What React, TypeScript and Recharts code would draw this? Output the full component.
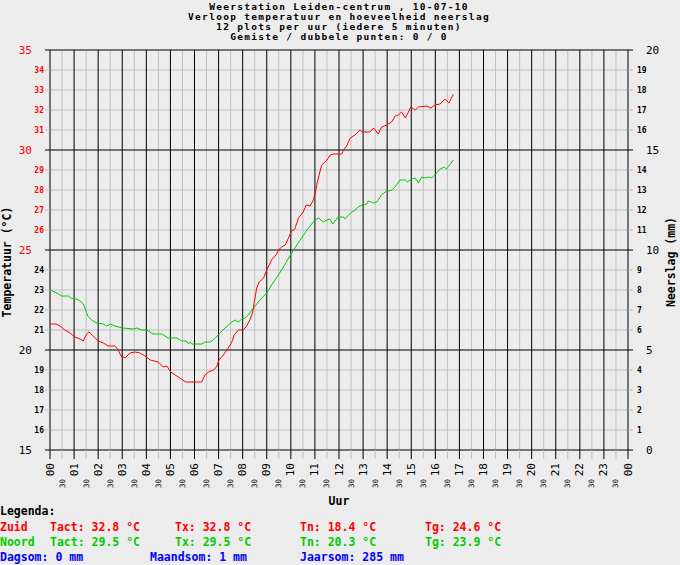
import { LineChart, Line, XAxis, YAxis, ReferenceLine } from 'recharts';

// minutes since 00:00 (5-minute samples, thinned)
const zuidMin = [
  0, 15, 25, 37, 50, 62, 75, 83, 91, 97, 108, 120, 133, 145, 162, 170, 177, 187, 199, 212,
  224, 237, 250, 270, 282, 291, 301, 316, 331, 337, 378, 386, 395, 407, 415, 421, 432, 444, 453, 459,
  469, 482, 490, 498, 505, 509, 515, 521, 532, 540, 552, 565, 569, 577, 586, 594, 602, 610, 619, 631,
  638, 648, 656, 661, 665, 671, 677, 685, 690, 698, 706, 727, 731, 739, 748, 760, 772, 778, 797, 806,
  818, 826, 839, 851, 860, 868, 876, 885, 893, 899, 910, 918, 939, 949, 959, 972, 984, 994, 1005,
];
const zuidTemp = [
  21.3, 21.3, 21.2, 21.0, 20.85, 20.65, 20.55, 20.45, 20.8, 20.9, 20.7, 20.45, 20.35, 20.2, 20.2, 20.0, 19.7, 19.6, 19.85, 19.9,
  19.85, 19.7, 19.5, 19.4, 19.15, 19.2, 18.9, 18.7, 18.5, 18.4, 18.4, 18.75, 18.9, 19.0, 19.15, 19.5, 19.75, 20.1, 20.4, 20.75,
  21.0, 21.0, 21.2, 21.5, 21.9, 22.4, 23.1, 23.4, 23.6, 24.0, 24.5, 24.8, 25.0, 25.15, 25.25, 25.6, 25.95, 26.05, 26.6, 26.9,
  27.25, 27.2, 27.5, 27.85, 28.3, 28.8, 29.25, 29.4, 29.5, 29.75, 29.8, 29.8, 30.0, 30.2, 30.6, 30.75, 31.0, 30.9, 30.9, 31.1,
  30.8, 31.15, 31.25, 31.4, 31.7, 31.75, 31.9, 31.6, 31.9, 32.15, 32.0, 32.15, 32.2, 32.1, 32.25, 32.3, 32.55, 32.35, 32.8,
];

const noordMin = [
  0, 12, 21, 29, 46, 52, 66, 75, 83, 87, 94, 104, 116, 133, 141, 150, 162, 181, 208, 216,
  228, 241, 257, 278, 295, 316, 328, 340, 345, 349, 353, 378, 386, 399, 407, 419, 436, 453, 461, 469,
  478, 486, 494, 509, 523, 540, 552, 569, 586, 600, 615, 630, 644, 660, 669, 681, 690, 698, 704, 718,
  731, 735, 749, 760, 768, 778, 789, 793, 806, 814, 826, 835, 851, 860, 872, 885, 890, 901, 910, 918,
  926, 934, 943, 951, 959, 972, 982, 988, 1005,
];
const noordTemp = [
  23.0, 22.9, 22.8, 22.7, 22.7, 22.6, 22.55, 22.45, 22.3, 22.1, 21.7, 21.5, 21.35, 21.3, 21.2, 21.3, 21.2, 21.1, 21.05, 21.1,
  21.0, 21.0, 20.8, 20.8, 20.6, 20.6, 20.45, 20.45, 20.3, 20.4, 20.3, 20.3, 20.4, 20.4, 20.5, 20.75, 21.1, 21.4, 21.5, 21.4,
  21.55, 21.6, 21.75, 22.15, 22.5, 22.85, 23.25, 23.75, 24.3, 24.8, 25.25, 25.7, 26.1, 26.5, 26.6, 26.4, 26.5, 26.55, 26.3, 26.65,
  26.65, 26.55, 26.85, 27.0, 27.15, 27.25, 27.3, 27.45, 27.35, 27.4, 27.75, 27.9, 28.0, 28.15, 28.5, 28.5, 28.4, 28.55, 28.6, 28.35,
  28.65, 28.6, 28.65, 28.6, 28.75, 29.05, 29.15, 29.05, 29.5,
];

// neerslag (mm): dagsom 0, so the rain trace lies on the bottom border
const neerslagMin = [0, 1005];
const neerslagMm = [0, 0];

const tempTicks = [15, 16, 17, 18, 19, 20, 21, 22, 23, 24, 25, 26, 27, 28, 29, 30, 31, 32, 33, 34, 35];
const rainTicks = [0, 1, 2, 3, 4, 5, 6, 7, 8, 9, 10, 11, 12, 13, 14, 15, 16, 17, 18, 19, 20];
const timeTicks = Array.from({ length: 49 }, (_, i) => i * 30);

const titleLines = [
  'Weerstation Leiden-centrum , 10-07-10',
  'Verloop temperatuur en hoeveelheid neerslag',
  '12 plots per uur (iedere 5 minuten)',
  'Gemiste / dubbele punten: 0 / 0',
];

const zuidData = zuidMin.map((t, i) => ({ t, temp: zuidTemp[i] }));
const noordData = noordMin.map((t, i) => ({ t, temp: noordTemp[i] }));
const rainData = neerslagMin.map((t, i) => ({ t, rain: neerslagMm[i] }));

const RED = '#ff0000';
const GREEN = '#00cc00';
const BLUE = '#0000ff';
const GRID = '#c0c0c0';
const BG = '#ececec';
const MONO = '"DejaVu Sans Mono", monospace';

const TempTick = (props: any) => {
  const { x, y, payload } = props;
  const v = payload.value;
  const major = v % 5 === 0;
  const color = v >= 25 ? RED : '#000';
  return (
    <g>
      <line x1={x - 5} x2={x} y1={y} y2={y} stroke={major ? '#000' : GRID} />
      <text
        x={major ? x - 18 : x - 6}
        y={y}
        textAnchor="end"
        dominantBaseline="central"
        fill={color}
        fontFamily={MONO}
        fontSize={major ? 11 : 8}
        fontWeight={major ? 'normal' : 'bold'}
      >
        {v}
      </text>
    </g>
  );
};

const RainTick = (props: any) => {
  const { x, y, payload } = props;
  const v = payload.value;
  const major = v % 5 === 0;
  return (
    <g>
      <line x1={x} x2={x + 5} y1={y} y2={y} stroke={major ? '#000' : GRID} />
      <text
        x={major ? x + 18 : x + 9}
        y={y}
        textAnchor="start"
        dominantBaseline="central"
        fill="#000"
        fontFamily={MONO}
        fontSize={major ? 11 : 8}
        fontWeight={major ? 'normal' : 'bold'}
      >
        {v}
      </text>
    </g>
  );
};

const TimeTick = (props: any) => {
  const { x, y, payload } = props;
  const v = payload.value;
  const hour = v % 60 === 0;
  const label = hour ? String((v / 60) % 24).padStart(2, '0') : '30';
  return (
    <g>
      <line x1={x} x2={x} y1={y} y2={y + 9} stroke={hour ? '#000' : GRID} />
      {hour ? (
        <text
          transform={`translate(${x},${y + 13}) rotate(-90)`}
          textAnchor="end"
          dominantBaseline="central"
          fill="#000"
          fontFamily={MONO}
          fontSize={11}
        >
          {label}
        </text>
      ) : (
        <text
          transform={`translate(${x},${y + 29}) rotate(-90)`}
          textAnchor="end"
          dominantBaseline="central"
          fill="#000"
          fontFamily={MONO}
          fontSize={7.5}
        >
          {label}
        </text>
      )}
    </g>
  );
};

export default function App() {
  const txt = { fontFamily: MONO, fontSize: 11.5, fontWeight: 'bold' as const };
  const head = { fontFamily: MONO, fontSize: 9.5, letterSpacing: 1.3, fontWeight: 'bold' as const };
  return (
    <div style={{ position: 'absolute', left: 0, top: 0, width: 680, height: 565, background: BG }}>
      <LineChart width={680} height={565} data={zuidData} margin={{ top: 50, right: 0, bottom: 0, left: 0 }}>
        <XAxis
          dataKey="t"
          type="number"
          domain={[0, 1440]}
          ticks={timeTicks}
          interval={0}
          height={115}
          tickSize={0}
          tickMargin={0}
          axisLine={false}
          tick={<TimeTick />}
        />
        <YAxis
          yAxisId="t"
          domain={[15, 35]}
          ticks={tempTicks}
          interval={0}
          width={50}
          tickSize={0}
          tickMargin={0}
          axisLine={false}
          tick={<TempTick />}
        />
        <YAxis
          yAxisId="r"
          orientation="right"
          domain={[0, 20]}
          ticks={rainTicks}
          interval={0}
          width={52}
          tickSize={0}
          tickMargin={0}
          axisLine={false}
          tick={<RainTick />}
        />
        {timeTicks.filter((v) => v % 60 !== 0).map((v) => (
          <ReferenceLine key={'vx' + v} x={v} yAxisId="t" stroke={GRID} />
        ))}
        {tempTicks.filter((v) => v % 5 !== 0).map((v) => (
          <ReferenceLine key={'hy' + v} y={v} yAxisId="t" stroke={GRID} />
        ))}
        {timeTicks.filter((v) => v % 60 === 0).map((v) => (
          <ReferenceLine key={'vX' + v} x={v} yAxisId="t" stroke="#000" />
        ))}
        {tempTicks.filter((v) => v % 5 === 0).map((v) => (
          <ReferenceLine key={'hY' + v} y={v} yAxisId="t" stroke="#000" />
        ))}
        <Line
          yAxisId="r"
          data={rainData}
          dataKey="rain"
          type="linear"
          stroke="#000"
          strokeOpacity={0}
          dot={false}
          isAnimationActive={false}
        />
        <Line
          yAxisId="t"
          data={noordData}
          dataKey="temp"
          type="linear"
          stroke={GREEN}
          strokeWidth={1}
          dot={false}
          isAnimationActive={false}
        />
        <Line
          yAxisId="t"
          data={zuidData}
          dataKey="temp"
          type="linear"
          stroke={RED}
          strokeWidth={1}
          dot={false}
          isAnimationActive={false}
        />
      </LineChart>

      <svg width={680} height={565} style={{ position: 'absolute', left: 0, top: 0, pointerEvents: 'none' }}>
        {titleLines.map((line, i) => (
          <text key={i} x={339} y={10 + i * 10} textAnchor="middle" fill="#000" {...head}>
            {line}
          </text>
        ))}
        <text transform="translate(11,262) rotate(-90)" textAnchor="middle" fill="#000" {...txt}>
          Temperatuur (°C)
        </text>
        <text transform="translate(675,262) rotate(-90)" textAnchor="middle" fill="#000" {...txt}>
          Neerslag (mm)
        </text>
        <text x={339} y={505} textAnchor="middle" fill="#000" {...txt}>Uur</text>
        <text x={0} y={515} fill="#000" {...txt}>Legenda:</text>

        <text x={0} y={531} fill={RED} {...txt}>Zuid</text>
        <text x={50} y={531} fill={RED} {...txt}>Tact: 32.8 °C</text>
        <text x={175} y={531} fill={RED} {...txt}>Tx: 32.8 °C</text>
        <text x={300} y={531} fill={RED} {...txt}>Tn: 18.4 °C</text>
        <text x={425} y={531} fill={RED} {...txt}>Tg: 24.6 °C</text>

        <text x={0} y={546} fill={GREEN} {...txt}>Noord</text>
        <text x={50} y={546} fill={GREEN} {...txt}>Tact: 29.5 °C</text>
        <text x={175} y={546} fill={GREEN} {...txt}>Tx: 29.5 °C</text>
        <text x={300} y={546} fill={GREEN} {...txt}>Tn: 20.3 °C</text>
        <text x={425} y={546} fill={GREEN} {...txt}>Tg: 23.9 °C</text>

        <text x={0} y={561} fill={BLUE} {...txt}>Dagsom: 0 mm</text>
        <text x={150} y={561} fill={BLUE} {...txt}>Maandsom: 1 mm</text>
        <text x={300} y={561} fill={BLUE} {...txt}>Jaarsom: 285 mm</text>
      </svg>
    </div>
  );
}
